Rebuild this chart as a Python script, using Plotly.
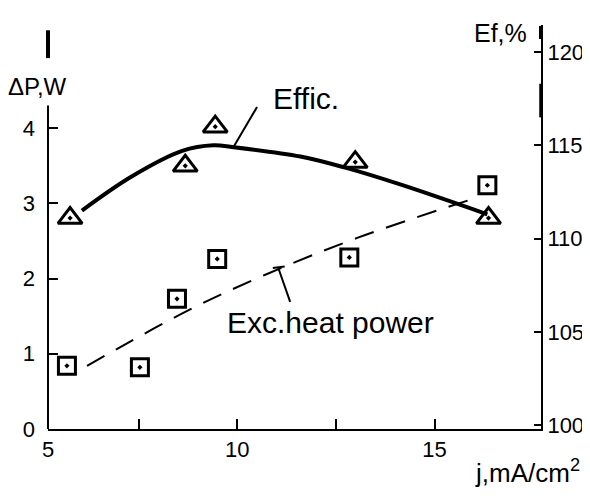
import plotly.graph_objects as go

# Data
eff_x = [5.76, 8.68, 9.44, 12.99, 16.37]          # j, mA/cm^2
eff_y = [111.1, 113.9, 116.0, 114.1, 111.1]        # Ef, %
eff_fit_x = [6.06, 7.3, 8.6, 9.39, 9.9, 11.6, 12.74, 14.13, 16.34]
eff_fit_y = [111.5, 113.3, 114.7, 115.0, 114.9, 114.4, 113.8, 112.9, 111.3]

heat_x = [5.68, 7.53, 8.47, 9.49, 12.84, 16.34]    # j, mA/cm^2
heat_y = [0.84, 0.82, 1.73, 2.26, 2.28, 3.24]      # dP, W
heat_fit_x = [6.19, 8.73, 10.71, 13.04, 16.04]
heat_fit_y = [0.84, 1.57, 2.05, 2.54, 3.07]

x_tickvals = [5.2, 7.5, 10, 12.5, 15]
x_ticktext = ["5", "", "10", "", "15"]
y_left_ticks = [0, 1, 2, 3, 4]
y_right_ticks = [100, 105, 110, 115, 120]

FONT = "Liberation Sans, Arial, sans-serif"

fig = go.Figure()

fig.add_trace(go.Scatter(x=heat_fit_x, y=heat_fit_y, mode="lines", yaxis="y",
                         line=dict(color="black", width=2, dash="20px,13px", shape="spline", smoothing=1.0),
                         showlegend=False, hoverinfo="skip"))
fig.add_trace(go.Scatter(x=heat_x, y=heat_y, mode="markers", yaxis="y",
                         marker=dict(symbol="square-open-dot", size=17, color="black",
                                     line=dict(color="black", width=3)),
                         showlegend=False))
fig.add_trace(go.Scatter(x=eff_fit_x, y=eff_fit_y, mode="lines", yaxis="y2",
                         line=dict(color="black", width=4, shape="spline", smoothing=1.0),
                         showlegend=False, hoverinfo="skip"))
fig.add_trace(go.Scatter(x=eff_x, y=eff_y, mode="markers", yaxis="y2",
                         marker=dict(symbol="triangle-up-open-dot", size=21, color="black",
                                     line=dict(color="black", width=3)),
                         showlegend=False))

shapes = [
    # left axis (interrupted by its title) and its arrow mark
    dict(type="line", xref="paper", yref="y", x0=0, x1=0, y0=0, y1=4.3,
         line=dict(color="black", width=2)),
    dict(type="line", xref="paper", yref="y", x0=0, x1=0, y0=4.93, y1=5.3,
         line=dict(color="black", width=4)),
    # right axis thick marks
    dict(type="line", xref="paper", yref="y2", x0=1, x1=1, y0=116.5, y1=118.3,
         line=dict(color="black", width=3.5)),
    dict(type="line", xref="paper", yref="y2", x0=1, x1=1, y0=120.7, y1=121.4,
         line=dict(color="black", width=4)),
    # leader lines
    dict(type="line", xref="x", yref="y2", x0=10.5, y0=117.05, x1=9.9, y1=114.9,
         line=dict(color="black", width=2)),
    dict(type="line", xref="x", yref="y", x0=11.04, y0=2.14, x1=11.34, y1=1.69,
         line=dict(color="black", width=2)),
    dict(type="line", xref="x", yref="y", x0=10.9, y0=2.14, x1=11.2, y1=2.16,
         line=dict(color="black", width=2)),
]

annotations = [
    dict(text="Effic.", x=11.75, y=117.5, xref="x", yref="y2", showarrow=False,
         xanchor="center", yanchor="middle",
         font=dict(size=30, family=FONT, color="black")),
    dict(text="Exc.heat power", x=12.36, y=1.41, xref="x", yref="y", showarrow=False,
         xanchor="center", yanchor="middle",
         font=dict(size=30, family=FONT, color="black")),
    dict(text="ΔP,W", x=-0.022, y=0.849, xref="paper", yref="paper", showarrow=False,
         xanchor="center", yanchor="middle",
         font=dict(size=24, family=FONT, color="black")),
    dict(text="Ef,%", x=0.917, y=0.98, xref="paper", yref="paper", showarrow=False,
         xanchor="center", yanchor="middle",
         font=dict(size=25, family=FONT, color="black")),
    dict(text="j,mA/cm<sup>2</sup>", x=0.972, y=-0.106, xref="paper", yref="paper",
         showarrow=False, xanchor="center", yanchor="middle",
         font=dict(size=26, family=FONT, color="black")),
]

fig.update_layout(
    width=582, height=495,
    margin=dict(l=40, r=49, t=17, b=74),
    paper_bgcolor="white", plot_bgcolor="white",
    font=dict(family=FONT, size=22, color="black"),
    xaxis=dict(range=[5.2, 17.7], tickvals=x_tickvals, ticktext=x_ticktext,
               ticks="inside", ticklen=10, tickwidth=2, tickcolor="black",
               showline=True, linecolor="black", linewidth=2, showgrid=False,
               zeroline=False, tickfont=dict(size=22), automargin=False),
    yaxis=dict(range=[0, 5.37], tickvals=y_left_ticks, ticks="inside", ticklen=10,
               tickwidth=2, tickcolor="black", showline=False, showgrid=False,
               zeroline=False, tickfont=dict(size=22), ticklabelstandoff=12,
               automargin=False),
    yaxis2=dict(range=[99.79, 121.45], tickvals=y_right_ticks, overlaying="y", side="right",
                ticks="inside", ticklen=7, tickwidth=2, tickcolor="black",
                showline=True, linecolor="black", linewidth=2, showgrid=False,
                zeroline=False, tickfont=dict(size=22), automargin=False),
    shapes=shapes,
    annotations=annotations,
)

fig.write_html("out.html")
